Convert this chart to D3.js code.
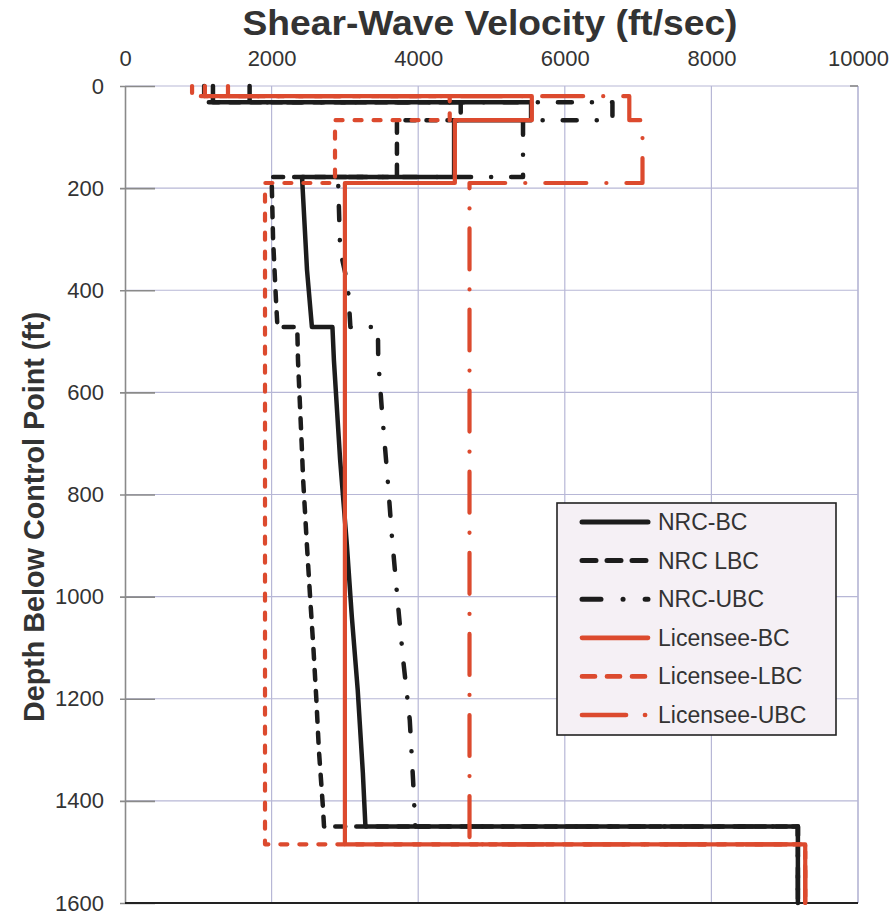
<!DOCTYPE html>
<html>
<head>
<meta charset="utf-8">
<script src="https://cdn.jsdelivr.net/npm/d3@7"></script>
<style>
  html, body { margin: 0; padding: 0; background: #fff; }
  svg { display: block; font-family: "Liberation Sans", Arial, Helvetica, sans-serif; }
</style>
</head>
<body>
<svg id="chart" width="896" height="920"></svg>
<script>
// ---------------- data ----------------
const xTicks = [0, 2000, 4000, 6000, 8000, 10000];
const yTicks = [0, 200, 400, 600, 800, 1000, 1200, 1400, 1600];

const seriesNames = ["NRC-BC", "NRC LBC", "NRC-UBC", "Licensee-BC", "Licensee-LBC", "Licensee-UBC"];

// depth (ft) / velocity (ft/sec) pairs for each profile
const nrcBcDepth = [0, 32, 32, 67, 67, 178, 178, 360, 472, 472, 537, 732, 895, 1040, 1183, 1345, 1450, 1450, 1600];
const nrcBcVel   = [1200, 1200, 5540, 5540, 4490, 4490, 2415, 2483, 2550, 2830, 2850, 2935, 3025, 3095, 3175, 3245, 3280, 9180, 9180];

const nrcLbcDepth = [0, 32, 32, 67, 67, 178, 178, 300, 420, 472, 472, 537, 635, 700, 770, 895, 1000, 1100, 1200, 1300, 1412, 1450, 1450, 1600];
const nrcLbcVel   = [1080, 1080, 4580, 4580, 3710, 3710, 2000, 2020, 2060, 2080, 2350, 2360, 2390, 2410, 2430, 2480, 2525, 2570, 2610, 2645, 2700, 2715, 9180, 9180];

const nrcUbcDepth = [0, 32, 32, 67, 67, 178, 178, 321, 390, 472, 472, 537, 635, 704, 782, 880, 1017, 1124, 1242, 1359, 1450, 1450, 1600];
const nrcUbcVel   = [1700, 1700, 6650, 6650, 5430, 5430, 2906, 2935, 3040, 3075, 3450, 3455, 3505, 3545, 3590, 3640, 3725, 3795, 3885, 3930, 3960, 9180, 9180];

const licBcDepth = [0, 20, 20, 67, 67, 190, 190, 1485, 1485, 1600];
const licBcVel   = [1090, 1090, 5550, 5550, 4500, 4500, 3000, 3000, 9280, 9280];

const licLbcDepth = [0, 20, 20, 67, 67, 190, 190, 1485, 1485, 1600];
const licLbcVel   = [915, 915, 4430, 4430, 2865, 2865, 1910, 1910, 9280, 9280];

const licUbcDepth = [0, 20, 20, 67, 67, 190, 190, 1485, 1485, 1600];
const licUbcVel   = [1405, 1405, 6880, 6880, 7060, 7060, 4700, 4700, 9280, 9280];

// ---------------- styles ----------------
const BLACK = "#1c1c1c";
const RED = "#dc4a2e";
const styles = [
  { color: BLACK, width: 4.5, dash: null, legendDash: null },
  { color: BLACK, width: 4.5, dash: "10,11", legendDash: "14,11" },
  { color: BLACK, width: 4.5, dash: "14,20,0.1,20", legendDash: "19,22,0.1,22" },
  { color: RED, width: 4.2, dash: null, legendDash: null },
  { color: RED, width: 4.2, dash: "7,12", legendDash: "13,12" },
  { color: RED, width: 4.2, dash: "41,20,0.1,20", legendDash: "44,19,0.1,19" }
];

const depths = [nrcBcDepth, nrcLbcDepth, nrcUbcDepth, licBcDepth, licLbcDepth, licUbcDepth];
const vels = [nrcBcVel, nrcLbcVel, nrcUbcVel, licBcVel, licLbcVel, licUbcVel];

// ---------------- layout ----------------
const svg = d3.select("#chart");
const pLeft = 125, pRight = 858, pTop = 86, pBottom = 903;

const x = d3.scaleLinear().domain([0, 10000]).range([pLeft, pRight]);
const y = d3.scaleLinear().domain([0, 1600]).range([pTop, pBottom]);

const GRID = "#b7b7d6";

// gridlines
const grid = svg.append("g");
grid.selectAll("line.v").data(xTicks.filter(d => d > 0)).enter().append("line")
  .attr("x1", d => x(d)).attr("x2", d => x(d))
  .attr("y1", pTop).attr("y2", pBottom)
  .attr("stroke", GRID).attr("stroke-width", 1.2);
grid.selectAll("line.h").data(yTicks.filter(d => d < 1600)).enter().append("line")
  .attr("x1", pLeft).attr("x2", pRight)
  .attr("y1", d => y(d)).attr("y2", d => y(d))
  .attr("stroke", GRID).attr("stroke-width", 1.2);

// left axis (ticks crossing the axis)
const yAxis = d3.axisLeft(y).tickValues(yTicks).tickSize(0).tickPadding(21).tickFormat(d3.format("d"));
const gy = svg.append("g").attr("transform", `translate(${pLeft},0)`).call(yAxis);
gy.select(".domain").attr("stroke", "#8a8a8a").attr("stroke-width", 1.6);
gy.selectAll(".tick line").remove();
gy.selectAll(".tick").append("line")
  .attr("x1", -5).attr("x2", 30).attr("y1", 0).attr("y2", 0)
  .attr("stroke", "#8a8a8a").attr("stroke-width", 1.6);
gy.selectAll(".tick text")
  .attr("font-size", 22).attr("fill", "#333")
  .attr("font-family", "'Liberation Sans', Arial, sans-serif");

// top axis labels
const xAxis = d3.axisTop(x).tickValues(xTicks).tickSize(0).tickPadding(20).tickFormat(d3.format("d"));
const gx = svg.append("g").attr("transform", `translate(0,${pTop})`).call(xAxis);
gx.select(".domain").remove();
gx.selectAll(".tick text")
  .attr("font-size", 22).attr("fill", "#333")
  .attr("font-family", "'Liberation Sans', Arial, sans-serif");

// right edge
svg.append("line").attr("x1", pRight).attr("x2", pRight).attr("y1", pTop).attr("y2", pBottom)
  .attr("stroke", GRID).attr("stroke-width", 1.2);
svg.append("line").attr("x1", pRight - 8).attr("x2", pRight).attr("y1", pTop).attr("y2", pTop)
  .attr("stroke", "#8a8a8a").attr("stroke-width", 1.6);

// bottom line
svg.append("line").attr("x1", pLeft).attr("x2", pRight).attr("y1", pBottom).attr("y2", pBottom)
  .attr("stroke", "#222").attr("stroke-width", 2);

// ---------------- profiles ----------------
const line = d3.line().x(d => x(d[1])).y(d => y(d[0]));
const plot = svg.append("g");
seriesNames.forEach((name, i) => {
  const pts = depths[i].map((dd, k) => [dd, vels[i][k]]);
  const s = styles[i];
  plot.append("path")
    .attr("d", line(pts))
    .attr("fill", "none")
    .attr("stroke", s.color)
    .attr("stroke-width", s.width)
    .attr("stroke-linecap", "round")
    .attr("stroke-linejoin", "round")
    .attr("stroke-dasharray", s.dash);
});

// ---------------- titles ----------------
svg.append("text")
  .attr("x", 490).attr("y", 35)
  .attr("text-anchor", "middle")
  .attr("font-size", 35).attr("font-weight", "bold").attr("fill", "#333")
  .attr("textLength", 495).attr("lengthAdjust", "spacingAndGlyphs")
  .text("Shear-Wave Velocity (ft/sec)");

svg.append("text")
  .attr("transform", "translate(44,517) rotate(-90)")
  .attr("text-anchor", "middle")
  .attr("font-size", 30).attr("font-weight", "bold").attr("fill", "#333")
  .attr("textLength", 410).attr("lengthAdjust", "spacingAndGlyphs")
  .text("Depth Below Control Point (ft)");

// ---------------- legend ----------------
const lg = svg.append("g");
lg.append("rect")
  .attr("x", 557).attr("y", 503).attr("width", 279).attr("height", 232)
  .attr("fill", "#f5f0f5").attr("stroke", "#222").attr("stroke-width", 1.6);
const rowY = d3.scalePoint().domain(seriesNames).range([522, 715]);
seriesNames.forEach((name, i) => {
  const s = styles[i];
  const yy = rowY(name);
  lg.append("line")
    .attr("x1", 582).attr("x2", 648).attr("y1", yy).attr("y2", yy)
    .attr("stroke", s.color).attr("stroke-width", s.width + 0.5)
    .attr("stroke-linecap", "round")
    .attr("stroke-dasharray", s.legendDash);
  lg.append("text")
    .attr("x", 658).attr("y", yy + 8)
    .attr("font-size", 23).attr("fill", "#333")
    .text(name);
});
</script>
</body>
</html>
